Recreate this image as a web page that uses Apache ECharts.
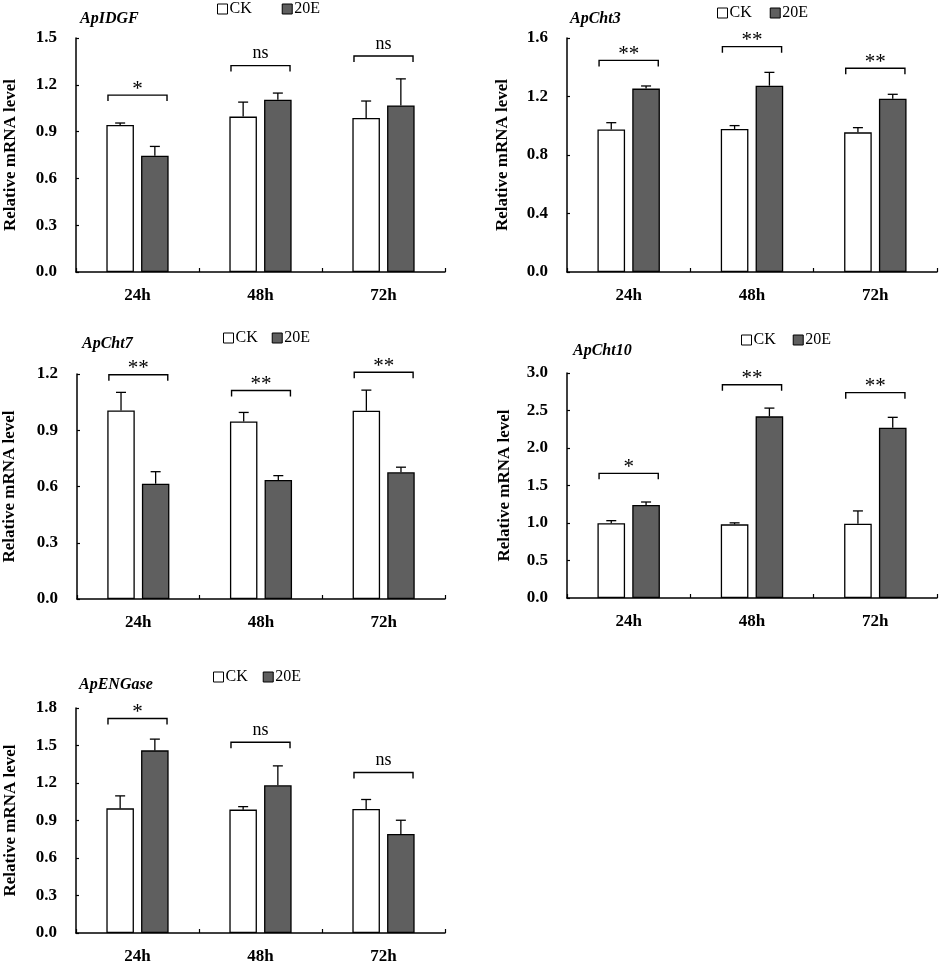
<!DOCTYPE html>
<html>
<head>
<meta charset="utf-8">
<script src="https://cdn.jsdelivr.net/npm/echarts@6/dist/echarts.min.js"></script>
<style>html,body{margin:0;padding:0;background:#fff;}#c{width:941px;height:965px;}</style>
</head>
<body>
<div id="c"></div>
<script>
// ---- data ----
const categories = ['24h', '48h', '72h'];
const genes = ['ApIDGF', 'ApCht3', 'ApCht7', 'ApCht10', 'ApENGase'];
const yMax = [1.5, 1.6, 1.2, 3.0, 1.8];
const yStep = [0.3, 0.4, 0.3, 0.5, 0.3];

const idgfCK = [0.943, 0.996, 0.987];
const idgfCKErr = [0.012, 0.093, 0.109];
const idgf20E = [0.745, 1.104, 1.068];
const idgf20EErr = [0.060, 0.043, 0.170];
const idgfSig = ['*', 'ns', 'ns'];
const idgfBracket = [1.134, 1.323, 1.385];

const cht3CK = [0.975, 0.978, 0.955];
const cht3CKErr = [0.046, 0.023, 0.032];
const cht320E = [1.254, 1.274, 1.185];
const cht320EErr = [0.018, 0.091, 0.030];
const cht3Sig = ['**', '**', '**'];
const cht3Bracket = [1.447, 1.541, 1.393];

const cht7CK = [1.005, 0.947, 1.004];
const cht7CKErr = [0.097, 0.048, 0.110];
const cht720E = [0.615, 0.635, 0.676];
const cht720EErr = [0.064, 0.023, 0.027];
const cht7Sig = ['**', '**', '**'];
const cht7Bracket = [1.196, 1.112, 1.209];

const cht10CK = [0.996, 0.982, 0.991];
const cht10CKErr = [0.035, 0.020, 0.170];
const cht1020E = [1.240, 2.422, 2.271];
const cht1020EErr = [0.040, 0.110, 0.138];
const cht10Sig = ['*', '**', '**'];
const cht10Bracket = [1.662, 2.844, 2.738];

const engCK = [0.997, 0.987, 0.992];
const engCKErr = [0.100, 0.024, 0.076];
const eng20E = [1.461, 1.182, 0.792];
const eng20EErr = [0.090, 0.155, 0.110];
const engSig = ['*', 'ns', 'ns'];
const engBracket = [1.716, 1.526, 1.284];

const panels = [
  {ck: idgfCK, ckErr: idgfCKErr, e: idgf20E, eErr: idgf20EErr, sig: idgfSig, br: idgfBracket},
  {ck: cht3CK, ckErr: cht3CKErr, e: cht320E, eErr: cht320EErr, sig: cht3Sig, br: cht3Bracket},
  {ck: cht7CK, ckErr: cht7CKErr, e: cht720E, eErr: cht720EErr, sig: cht7Sig, br: cht7Bracket},
  {ck: cht10CK, ckErr: cht10CKErr, e: cht1020E, eErr: cht1020EErr, sig: cht10Sig, br: cht10Bracket},
  {ck: engCK, ckErr: engCKErr, e: eng20E, eErr: eng20EErr, sig: engSig, br: engBracket}
];

// ---- layout / style ----
const FONT = '"Liberation Serif","Times New Roman",serif';
const grids = [
  {left: 76, top: 38, width: 369, height: 234},
  {left: 567, top: 38, width: 370, height: 234},
  {left: 76, top: 374, width: 369, height: 225},
  {left: 567, top: 373, width: 370, height: 225},
  {left: 76, top: 708, width: 369, height: 228}
];
const titlePos = [[80, 11], [570, 11], [82, 336], [573, 343], [79, 677]];
const legendPos = [[217, 1, 30], [717, 5, 18], [223, 330, 14], [741, 332, 17], [213, 669, 15]];
const nameGaps = [57, 56, 59, 54, 57];
const BAR_W = 0.224, BAR_GAP = 0.26;

const chart = echarts.init(document.getElementById('c'), null, {renderer: 'canvas'});

const option = {
  backgroundColor: '#fff',
  animation: false,
  grid: grids.map(g => Object.assign({containLabel: false}, g)),
  title: genes.map((g, i) => ({
    text: g, left: titlePos[i][0], top: titlePos[i][1], padding: 0,
    textStyle: {fontFamily: FONT, fontStyle: 'italic', fontWeight: 'bold', fontSize: 16, color: '#000'}
  })),
  legend: genes.map((g, i) => ({
    left: legendPos[i][0], top: legendPos[i][1], itemGap: legendPos[i][2],
    itemWidth: 10, itemHeight: 10, icon: 'rect', selectedMode: false, padding: 0,
    textStyle: {fontFamily: FONT, fontSize: 16, color: '#000', padding: [0, 0, 0, -3]},
    data: [
      {name: 'CK', itemStyle: {color: '#fff', borderColor: '#000', borderWidth: 1}},
      {name: '20E', itemStyle: {color: '#5f5f5f', borderColor: '#000', borderWidth: 1}}
    ]
  })),
  xAxis: grids.map((g, i) => ({
    type: 'category', gridIndex: i, data: categories,
    axisLine: {lineStyle: {color: '#000', width: 1.5}},
    axisTick: {show: true, inside: true, length: 4, lineStyle: {color: '#000', width: 1.2}},
    axisLabel: {fontFamily: FONT, fontWeight: 'bold', fontSize: 17, color: '#000', margin: 15},
    splitLine: {show: false}
  })),
  yAxis: grids.map((g, i) => ({
    type: 'value', gridIndex: i, min: 0, max: yMax[i], interval: yStep[i],
    name: 'Relative mRNA level', nameLocation: 'middle', nameGap: nameGaps[i], nameRotate: 90,
    nameTextStyle: {fontFamily: FONT, fontWeight: 'bold', fontSize: 17, color: '#000'},
    axisLine: {show: true, lineStyle: {color: '#000', width: 1.5}},
    axisTick: {show: true, inside: true, length: 3, lineStyle: {color: '#000', width: 1.2}},
    axisLabel: {fontFamily: FONT, fontWeight: 'bold', fontSize: 17, color: '#000', margin: 19,
      formatter: v => v.toFixed(1)},
    splitLine: {show: false}
  })),
  series: []
};

function errSeries(i, means, errs, sign) {
  return {
    type: 'custom', xAxisIndex: i, yAxisIndex: i, z: 5, silent: true,
    encode: {x: 0, y: 1},
    data: means.map((m, k) => [k, m, errs[k]]),
    renderItem: (params, api) => {
      const band = api.size([1, 0])[0];
      const off = sign * band * BAR_W * (1 + BAR_GAP) / 2;
      const p0 = api.coord([api.value(0), api.value(1)]);
      const p1 = api.coord([api.value(0), api.value(1) + api.value(2)]);
      const x = p0[0] + off;
      const st = {stroke: '#000', lineWidth: 1.3, fill: null};
      return {type: 'group', children: [
        {type: 'line', shape: {x1: x, y1: p0[1], x2: x, y2: p1[1]}, style: st},
        {type: 'line', shape: {x1: x - 5, y1: p1[1], x2: x + 5, y2: p1[1]}, style: st}
      ]};
    }
  };
}

function bracketSeries(i, heights, sigs) {
  return {
    type: 'custom', xAxisIndex: i, yAxisIndex: i, z: 6, silent: true,
    encode: {x: 0, y: 1},
    data: heights.map((h, k) => [k, h]),
    renderItem: (params, api) => {
      const band = api.size([1, 0])[0];
      const hw = band * 0.24;
      const p = api.coord([api.value(0), api.value(1)]);
      const lab = sigs[params.dataIndex];
      const isNs = lab === 'ns';
      return {type: 'group', children: [
        {type: 'polyline', shape: {points: [[p[0] - hw, p[1] + 6], [p[0] - hw, p[1]], [p[0] + hw, p[1]], [p[0] + hw, p[1] + 6]]},
          style: {stroke: '#000', lineWidth: 1.4, fill: null}},
        {type: 'text', x: p[0], y: p[1] - (isNs ? 12 : 6),
          style: {text: lab, textAlign: 'center', textVerticalAlign: 'middle',
            font: (isNs ? '18px' : '21px') + ' "Liberation Serif","Times New Roman",serif', fill: '#000'}}
      ]};
    }
  };
}

panels.forEach((p, i) => {
  option.series.push({
    name: 'CK', type: 'bar', xAxisIndex: i, yAxisIndex: i, data: p.ck,
    barWidth: (BAR_W * 100) + '%', barGap: (BAR_GAP * 100) + '%',
    itemStyle: {color: '#fff', borderColor: '#000', borderWidth: 1.3}
  });
  option.series.push({
    name: '20E', type: 'bar', xAxisIndex: i, yAxisIndex: i, data: p.e,
    barWidth: (BAR_W * 100) + '%', barGap: (BAR_GAP * 100) + '%',
    itemStyle: {color: '#5f5f5f', borderColor: '#000', borderWidth: 1.3}
  });
  option.series.push(errSeries(i, p.ck, p.ckErr, -1));
  option.series.push(errSeries(i, p.e, p.eErr, 1));
  option.series.push(bracketSeries(i, p.br, p.sig));
});

chart.setOption(option);
</script>
</body>
</html>
